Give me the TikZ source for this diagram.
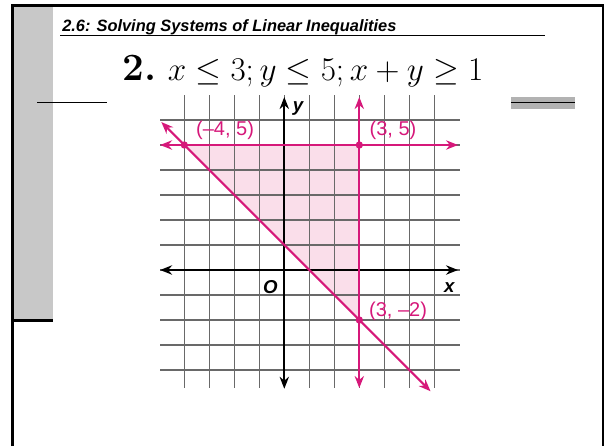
\documentclass[tikz,border=0pt]{standalone}
\usepackage{fontspec}
\setsansfont{Liberation Sans}
\usetikzlibrary{arrows.meta}
\definecolor{mag}{RGB}{214,24,122}
\definecolor{regionpink}{RGB}{250,222,234}
\definecolor{sidegray}{RGB}{200,200,200}
\definecolor{bargray}{RGB}{178,178,178}
\definecolor{gridc}{RGB}{105,105,105}
\tikzset{
  frameline/.style={line width=2.2pt, black},
  gridline/.style={gridc, line width=0.9pt},
  axisline/.style={black, line width=1.6pt, {Stealth[length=9pt,width=7pt]}-{Stealth[length=9pt,width=7pt]}},
  magline/.style={mag, line width=1.6pt, {Stealth[length=9pt,width=7pt]}-{Stealth[length=9pt,width=7pt]}},
  dot/.style={circle, fill=mag, inner sep=0pt, minimum size=5.5pt},
  ptlabel/.style={mag, font=\sffamily\fontsize{15}{17}\selectfont, inner sep=0pt},
  axlabel/.style={black, font=\sffamily\bfseries\itshape\fontsize{14}{16}\selectfont, inner sep=0pt}
}
\begin{document}
\begin{tikzpicture}[x=0.75pt,y=-0.75pt]
\useasboundingbox (0,0) rectangle (605,446);
% frame
\fill[sidegray] (13.5,6) rectangle (53,319);
\draw[frameline] (12.5,446) -- (12.5,5.3) -- (603,5.3) -- (603,446);
\draw[line width=2.2pt] (13.5,320.5) -- (53,320.5);
% title
\node[anchor=base west, inner sep=0pt, font=\sffamily\bfseries\itshape\fontsize{12.3}{14}\selectfont] (title) at (62,31) {2.6: Solving Systems of Linear Inequalities};
\coordinate (ulA) at (60,35.5);
\coordinate (ulB) at (545,35.5);
\draw[line width=0.8pt] (ulA) -- (ulB);
% equation
\node[anchor=base west, inner sep=0pt, font=\fontsize{29}{34}\selectfont] (eq) at (122,80.5) {\textbf{2.}\ $x \le 3; y \le 5; x + y \ge 1$};
% side lines
\coordinate (llA) at (37,102.5);
\coordinate (llB) at (107,102.5);
\draw[line width=0.8pt] (llA) -- (llB);
\fill[bargray] (511,97) rectangle (575,109);
\coordinate (rlA) at (511,102.5);
\coordinate (rlB) at (575,102.5);
\draw[line width=0.8pt] (rlA) -- (rlB);
% graph
\begin{scope}[shift={(284.3,270)}, x=18.75pt, y=18.75pt]
  \fill[regionpink] (-4,5) -- (3,5) -- (3,-2) -- cycle;
  \foreach \i in {-4,...,6} {
    \draw[gridline] (\i,7) -- (\i,-4.72);
    \draw[gridline] (-4.97,\i) -- (7.03,\i);
  }
  \coordinate (xL) at (-4.97,0);
  \coordinate (xR) at (6.95,0);
  \coordinate (yT) at (0,6.92);
  \coordinate (yB) at (0,-4.75);
  \draw[axisline] (xL) -- (xR);
  \draw[axisline] (yB) -- (yT);
  \coordinate (hL) at (-4.97,5);
  \coordinate (hR) at (6.95,5);
  \coordinate (vT) at (3,6.92);
  \coordinate (vB) at (3,-4.72);
  \coordinate (dT) at (-4.92,5.92);
  \coordinate (dB) at (5.85,-4.85);
  \draw[magline] (hL) -- (hR);
  \draw[magline] (vB) -- (vT);
  \draw[magline] (dT) -- (dB);
  \node[dot] (p1) at (-4,5) {};
  \node[dot] (p2) at (3,5) {};
  \node[dot] (p3) at (3,-2) {};
  \node[ptlabel] (l1) at (-2.37,5.6) {(\textendash4, 5)};
  \node[ptlabel] (l2) at (4.35,5.6) {(3, 5)};
  \node[ptlabel] (l3) at (4.55,-1.67) {(3, \textendash2)};
  \node[axlabel, anchor=west] (ylab) at (0.33,6.45) {y};
  \node[axlabel] (xlab) at (6.6,-0.7) {x};
  \node[axlabel] (olab) at (-0.56,-0.7) {O};
\end{scope}
\end{tikzpicture}
\end{document}
